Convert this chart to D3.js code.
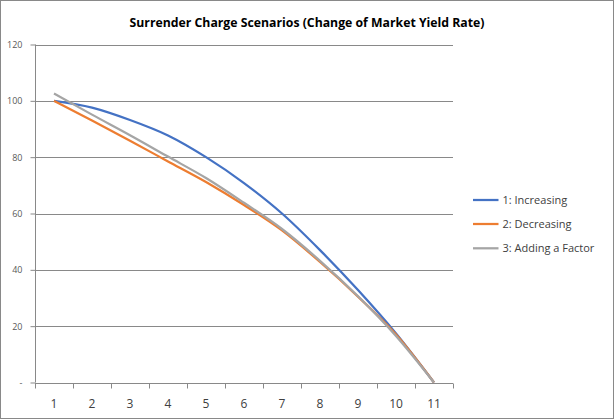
<!DOCTYPE html>
<html><head><meta charset="utf-8">
<script src="https://cdn.jsdelivr.net/npm/d3@7"></script>
<style>html,body{margin:0;padding:0;background:#fff;}svg{display:block;}</style>
</head><body>
<script>
const categories = ["1","2","3","4","5","6","7","8","9","10","11"];
const seriesNames = ["1: Increasing","2: Decreasing","3: Adding a Factor"];
const increasing = [100, 97.6, 93.2, 87.7, 80, 70.8, 60, 47, 32.8, 17.4, 0];
const decreasing = [100, 93, 85.8, 78.5, 71.2, 63, 54, 42.8, 30.5, 17, 0];
const addingFactor = [102.6, 95.1, 87.8, 80.2, 72.6, 63.8, 54.5, 43.2, 30.6, 16.5, 0];
const yTicks = [0, 20, 40, 60, 80, 100, 120];
const colors = ["#4472C4", "#ED7D31", "#A5A5A5"];
const title = "Surrender Charge Scenarios (Change of Market Yield Rate)";

(function () {
const W = 614, H = 419;
const svg = d3.select("body").append("svg").attr("width", W).attr("height", H);
svg.append("rect").attr("x",0.5).attr("y",0.5).attr("width",W-1).attr("height",H-1)
  .attr("fill","#fff").attr("stroke","#898989").attr("stroke-width",1);

const pLeft = 35, pRight = 453, pTop = 44.5, pBottom = 382.5;
const x = d3.scaleBand().domain(categories).range([pLeft, pRight]).padding(0);
const y = d3.scaleLinear().domain([0, 120]).range([pBottom, pTop]);

// gridlines
svg.append("g").selectAll("line").data(yTicks.filter(d => d > 0)).join("line")
  .attr("x1", pLeft).attr("x2", pRight)
  .attr("y1", d => Math.round(y(d)) + 0.5).attr("y2", d => Math.round(y(d)) + 0.5)
  .attr("stroke", "#898989").attr("stroke-width", 1);

// y axis
const yAxis = d3.axisLeft(y).tickValues(yTicks).tickSize(5).tickPadding(8)
  .tickFormat(d => d === 0 ? "-" : d);
const gy = svg.append("g").attr("transform", `translate(${pLeft + 0.5},0)`).call(yAxis);
gy.select(".domain").attr("stroke", "#898989").attr("d", `M0,${y(120)}V${y(0)}`);
gy.selectAll(".tick line").attr("stroke", "#898989");
gy.selectAll(".tick text").attr("font-family", "Open Sans, sans-serif").attr("font-size", 9).attr("fill", "#595959");

// x axis (ticks between categories)
const gx = svg.append("g").attr("transform", `translate(0,${Math.round(pBottom)+0.5})`);
gx.append("line").attr("x1", pLeft).attr("x2", pRight).attr("stroke", "#898989");
const bounds = d3.range(categories.length + 1).map(i => pLeft + i * x.bandwidth());
gx.selectAll("line.tk").data(bounds).join("line").attr("class","tk")
  .attr("x1", d => Math.round(d) + 0.5).attr("x2", d => Math.round(d) + 0.5)
  .attr("y1", 0).attr("y2", 5).attr("stroke", "#898989");
gx.selectAll("text").data(categories).join("text")
  .attr("x", d => x(d) + x.bandwidth() / 2).attr("y", 24)
  .attr("text-anchor", "middle").attr("font-family", "Open Sans, sans-serif")
  .attr("font-size", 12).attr("fill", "#404040").text(d => d);

// lines
const allSeries = [increasing, decreasing, addingFactor];
const line = d3.line().x((d, i) => x(categories[i]) + x.bandwidth() / 2).y(d => y(d)).curve(d3.curveMonotoneX);
svg.append("g").selectAll("path").data(allSeries).join("path")
  .attr("d", d => line(d)).attr("fill", "none")
  .attr("stroke", (d, i) => colors[i]).attr("stroke-width", 2.25).attr("stroke-linejoin", "round");

// title
svg.append("text").attr("x", 307).attr("y", 27).attr("text-anchor", "middle")
  .attr("font-family", "Open Sans, sans-serif").attr("font-weight", "bold").attr("font-size", 13)
  .attr("textLength", 355).attr("lengthAdjust", "spacingAndGlyphs")
  .attr("fill", "#000").text(title);

// legend
const legendY = [200, 224, 248.3];
const lg = svg.append("g");
seriesNames.forEach((n, i) => {
  lg.append("line").attr("x1", 473).attr("x2", 498.5).attr("y1", legendY[i]).attr("y2", legendY[i])
    .attr("stroke", colors[i]).attr("stroke-width", 2.25);
  lg.append("text").attr("x", 502.5).attr("y", legendY[i]).attr("dy", "0.35em")
    .attr("font-family", "Open Sans, sans-serif").attr("font-size", 11).attr("fill", "#404040").text(n);
});
})();
</script>
</body></html>
